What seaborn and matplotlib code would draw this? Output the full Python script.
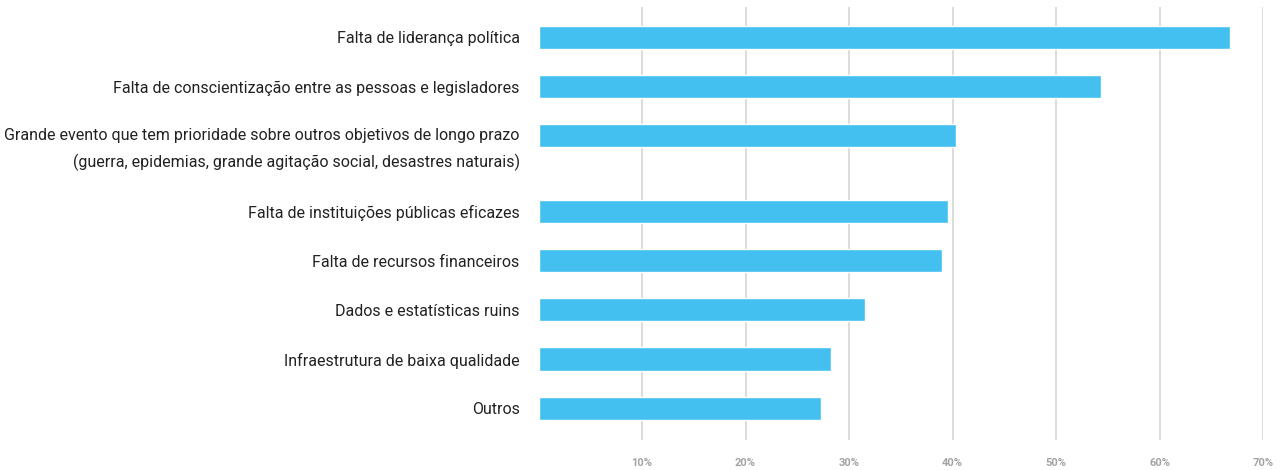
import matplotlib
matplotlib.use("Agg")
import matplotlib.pyplot as plt
import matplotlib.transforms as mtrans
import seaborn as sns
import numpy as np
import pandas as pd

categories = [
    "Falta de liderança política",
    "Falta de conscientização entre as pessoas e legisladores",
    "Grande evento que tem prioridade sobre outros objetivos de longo prazo\n(guerra, epidemias, grande agitação social, desastres naturais)",
    "Falta de instituições públicas eficazes",
    "Falta de recursos financeiros",
    "Dados e estatísticas ruins",
    "Infraestrutura de baixa qualidade",
    "Outros",
]
values = [66.8, 54.3, 40.3, 39.6, 39.0, 31.5, 28.3, 27.3]
tick_values = [10, 20, 30, 40, 50, 60, 70]
tick_labels = ["10%", "20%", "30%", "40%", "50%", "60%", "70%"]

# category slots grow with the number of label lines (layout rule)
n_lines = np.array([c.count("\n") + 1 for c in categories])
steps = np.concatenate([[0.0], 1 + 0.55 * (n_lines[:-1] - 1)])
slot = np.cumsum(steps)

df = pd.DataFrame({"cat": categories, "val": values, "slot": slot})

sns.set_theme(style="white")
plt.rcParams["font.family"] = ["Roboto", "DejaVu Sans"]

fig = plt.figure(figsize=(12.82, 4.70), dpi=100)
ax = fig.add_axes([538.5 / 1282, 1 - 440 / 470, (1263 - 538.5) / 1282, (440 - 7) / 470])

sns.barplot(data=df, y="slot", x="val", orient="h", native_scale=True,
            color="#43C0EF", saturation=1, width=0.47, ax=ax, zorder=3)

ax.set_xlim(0, 70)
ax.set_ylim(slot[-1] + 0.65, -0.62)
ax.set_yticks(slot, categories)
ax.set_xticks(tick_values)
ax.set_xticklabels(tick_labels, fontsize=8, fontweight="bold", color="#a3a3a3")
ax.tick_params(axis="x", length=0, pad=13)
ax.tick_params(axis="y", length=0, pad=13.5)
for x in tick_values:
    ax.axvline(x, color="#d9d9d9", lw=1.3, zorder=1)
for s in ax.spines.values():
    s.set_visible(False)
ax.set_xlabel("")
ax.set_ylabel("")

for lab in ax.get_yticklabels():
    lab.set_fontsize(11.5)
    lab.set_color("#222222")
    if "\n" in lab.get_text():
        lab.set_verticalalignment("top")
        lab.set_linespacing(1.8)
        lab.set_transform(lab.get_transform() +
                          mtrans.ScaledTranslation(0, 5.5 / 72, fig.dpi_scale_trans))

fig.savefig("out.png", dpi=100)
